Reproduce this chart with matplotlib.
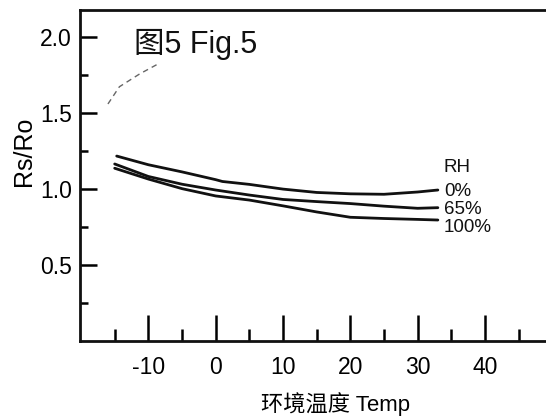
import numpy as np
import matplotlib
matplotlib.use('Agg')
import matplotlib.pyplot as plt

plt.rcParams['font.family'] = ['Liberation Sans', 'Noto Sans CJK SC', 'DejaVu Sans']
plt.rcParams['axes.unicode_minus'] = False

# data
temp_0 = [-14.7, -10, -5, 0, 1, 5, 10, 15, 20, 25, 30, 33]
rh_0 = [1.217, 1.160, 1.113, 1.062, 1.050, 1.031, 1.000, 0.978, 0.969, 0.966, 0.981, 0.994]

temp_65 = [-15, -10, -5, 0, 5, 10, 15, 20, 25, 30, 33]
rh_65 = [1.165, 1.083, 1.032, 0.994, 0.961, 0.932, 0.918, 0.905, 0.888, 0.874, 0.878]

temp_100 = [-15, -10, -5, 0, 5, 10, 15, 20, 25, 30, 33]
rh_100 = [1.137, 1.066, 1.003, 0.955, 0.928, 0.890, 0.850, 0.815, 0.807, 0.801, 0.797]

# faint dashed stroke from the scan
scan_x = [-16.0, -14.3, -11.3, -8.3]
scan_y = [1.559, 1.672, 1.756, 1.828]

x_major = [-10, 0, 10, 20, 30, 40]
x_minor = [-15, -5, 5, 15, 25, 35, 45]
y_major = [0.5, 1.0, 1.5, 2.0]
y_minor = [0.25, 0.75, 1.25, 1.75]

rh_labels = ['RH', '0%', '65%', '100%']
rh_label_y = [1.145, 0.984, 0.863, 0.748]

fig = plt.figure(figsize=(5.46, 4.18), dpi=100)
ax = fig.add_axes([80/546, 76.6/418, 466/546, 331.4/418])

for t, v in [(temp_0, rh_0), (temp_65, rh_65), (temp_100, rh_100)]:
    ax.plot(t, v, color='#111111', lw=2.0, solid_capstyle='round')

ax.plot(scan_x, scan_y, color='#666666', lw=1.0, ls=(0, (4, 3)))

for lab, yy in zip(rh_labels, rh_label_y):
    ax.text(33.9, yy, lab, fontsize=13.5, va='center', ha='left', color='#111111')

ax.text(-12.2, 1.892, '图5 Fig.5', fontsize=22, va='baseline', ha='left', color='#111111')

ax.set_xlim(-20.15, 49.06)
ax.set_ylim(0, 2.176)

ax.set_xticks(x_major)
ax.set_xticks(x_minor, minor=True)
ax.set_yticks(y_major)
ax.set_yticks(y_minor, minor=True)
ax.set_yticklabels(['0.5', '1.0', '1.5', '2.0'])

ax.tick_params(axis='x', which='major', direction='in', length=18.7, width=1.8, pad=10.5, labelsize=16.5)
ax.tick_params(axis='x', which='minor', direction='in', length=8.6, width=1.8)
ax.tick_params(axis='y', which='major', direction='in', length=12, width=1.8, pad=5.8, labelsize=16.5)
ax.tick_params(axis='y', which='minor', direction='in', length=6, width=1.8)
ax.tick_params(top=False, right=False, which='both')

for s in ['left', 'bottom', 'top']:
    ax.spines[s].set_linewidth(2.0)
    ax.spines[s].set_color('#111111')
ax.spines['right'].set_visible(False)

ax.set_ylabel('Rs/Ro', fontsize=18)
ax.yaxis.set_label_coords(-0.120, 0.573)
ax.set_xlabel('环境温度 Temp', fontsize=16)
ax.xaxis.set_label_coords(0.549, -0.19)
ax.xaxis.label.set_va('center')
ax.yaxis.label.set_va('center')

fig.savefig('out.png', dpi=100)
